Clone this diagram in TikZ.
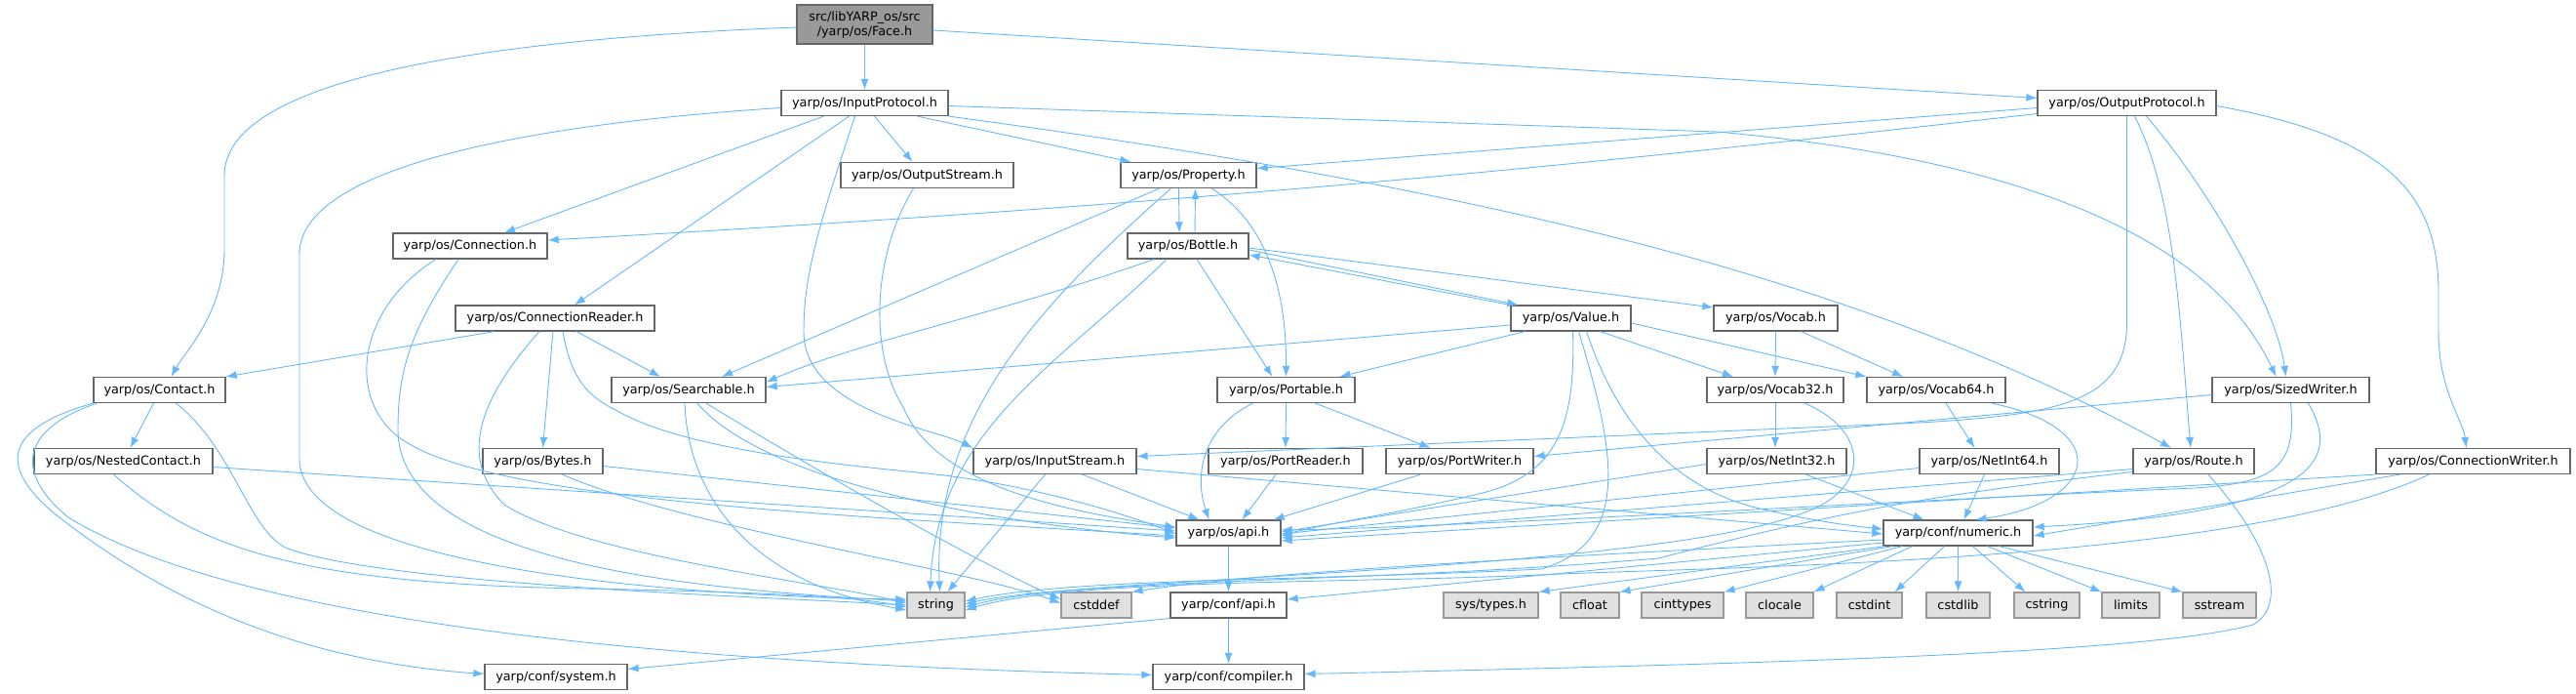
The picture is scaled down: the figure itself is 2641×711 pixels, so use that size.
\documentclass[tikz,border=0pt]{standalone}
\usepackage{fontspec}
\newfontfamily\dejavu{DejaVu Sans}
\usetikzlibrary{arrows.meta}
\definecolor{edgecol}{HTML}{63B8FF}
\definecolor{hdrline}{HTML}{666666}
\definecolor{sysline}{HTML}{999999}
\definecolor{sysfill}{HTML}{E0E0E0}
\definecolor{facefill}{HTML}{999999}
\begin{document}
\begin{tikzpicture}[x=1pt,y=-1pt,
  hdr/.style={draw=hdrline, fill=white, line width=1.2pt, minimum height=26pt, inner sep=0pt, font=\dejavu\fontsize{12.8}{15}\selectfont},
  syshdr/.style={hdr, draw=sysline, fill=sysfill},
  dep/.style={draw=edgecol, line width=0.9pt, -{Latex[length=11pt,width=8pt]}}]
\useasboundingbox (0,0) rectangle (2641,711);

\def \ya{25}
\def \yb{105.5}
\def \yc{179.5}
\def \yd{252}
\def \ye{326}
\def \yf{399.5}
\def \yg{472.5}
\def \yh{546}
\def \yi{620}
\def \yj{693.5}

\node [hdr, fill=facefill, minimum width=139pt, minimum height=40pt, align=center] (face) at (886.5,\ya) {src/libYARP\_os/src\\/yarp/os/Face.h};
\node [hdr, minimum width=171pt] (inprot) at (886.5,\yb) {yarp/os/InputProtocol.h};
\node [hdr, minimum width=183pt] (outprot) at (2180.5,\yb) {yarp/os/OutputProtocol.h};
\node [hdr, minimum width=177pt] (ostream) at (950.5,\yc) {yarp/os/OutputStream.h};
\node [hdr, minimum width=139pt] (prop) at (1218.5,\yc) {yarp/os/Property.h};
\node [hdr, minimum width=158pt] (conn) at (482,\yd) {yarp/os/Connection.h};
\node [hdr, minimum width=124pt] (bottle) at (1218,\yd) {yarp/os/Bottle.h};
\node [hdr, minimum width=204pt] (connrd) at (569,\ye) {yarp/os/ConnectionReader.h};
\node [hdr, minimum width=123pt] (value) at (1610.5,\ye) {yarp/os/Value.h};
\node [hdr, minimum width=127pt] (vocab) at (1820.5,\ye) {yarp/os/Vocab.h};
\node [hdr, minimum width=135pt] (contact) at (163.5,\yf) {yarp/os/Contact.h};
\node [hdr, minimum width=158pt] (search) at (706,\yf) {yarp/os/Searchable.h};
\node [hdr, minimum width=141pt] (portable) at (1318.5,\yf) {yarp/os/Portable.h};
\node [hdr, minimum width=140pt] (voc32) at (1820,\yf) {yarp/os/Vocab32.h};
\node [hdr, minimum width=142pt] (voc64) at (1985,\yf) {yarp/os/Vocab64.h};
\node [hdr, minimum width=161pt] (sizedw) at (2348.5,\yf) {yarp/os/SizedWriter.h};
\node [hdr, minimum width=183pt] (nested) at (126.5,\yg) {yarp/os/NestedContact.h};
\node [hdr, minimum width=123pt] (bytes) at (556.5,\yg) {yarp/os/Bytes.h};
\node [hdr, minimum width=167pt] (istream) at (1081.5,\yg) {yarp/os/InputStream.h};
\node [hdr, minimum width=158pt] (preader) at (1318,\yg) {yarp/os/PortReader.h};
\node [hdr, minimum width=151pt] (pwriter) at (1496.5,\yg) {yarp/os/PortWriter.h};
\node [hdr, minimum width=143pt] (net32) at (1821.5,\yg) {yarp/os/NetInt32.h};
\node [hdr, minimum width=143pt] (net64) at (2039.5,\yg) {yarp/os/NetInt64.h};
\node [hdr, minimum width=124pt] (route) at (2249,\yg) {yarp/os/Route.h};
\node [hdr, minimum width=199pt] (connwr) at (2535.5,\yg) {yarp/os/ConnectionWriter.h};
\node [hdr, minimum width=107pt] (osapi) at (1259.5,\yh) {yarp/os/api.h};
\node [hdr, minimum width=153pt] (numeric) at (2007.5,\yh) {yarp/conf/numeric.h};
\node [hdr, minimum width=119pt] (confapi) at (1259.5,\yi) {yarp/conf/api.h};
\node [syshdr, minimum width=97pt] (systypes) at (1528.5,\yi) {sys/types.h};
\foreach \n/\x/\w in {string/959.5/59, cstddef/1124/72, cfloat/1630/60, cinttypes/1725/84, clocale/1824.5/69, cstdint/1916.5/67, cstdlib/2007.5/65, cstring/2098.5/67, limits/2184.5/59, sstream/2275.5/75}
  \node [syshdr, minimum width=\w pt] (\n) at (\x,\yi) {\n};
\node [hdr, minimum width=146pt] (system) at (570,\yj) {yarp/conf/system.h};
\node [hdr, minimum width=155pt] (compiler) at (1259.5,\yj) {yarp/conf/compiler.h};

% Face.h
\draw [dep] (face) -- (inprot);
\draw [dep] ([yshift=-6pt]face.east) -- ([yshift=5pt]outprot.west);
\draw [dep] ([yshift=-3pt]face.west) .. controls (500,40) and (230,80) .. (230,180) -- (230,255) .. controls (230,320) and (190,360) .. ([xshift=12pt]contact.north);

% InputProtocol.h
\draw [dep] ([yshift=-5pt]inprot.west) .. controls (500,130) and (307,180) .. (307,260) -- (307,470) .. controls (307,590) and (750,612) .. ([yshift=6pt]string.west);
\draw [dep] ([xshift=-42pt]inprot.south) -- ([xshift=35pt]conn.north);
\draw [dep] ([xshift=-16pt]inprot.south) -- ([xshift=20pt]connrd.north);
\draw [dep] ([xshift=-10pt]inprot.south) .. controls (840,230) and (824,280) .. (824,340) .. controls (824,420) and (960,440) .. (istream.north west);
\draw [dep] ([xshift=10pt]inprot.south) -- ([xshift=-15pt]ostream.north);
\draw [dep] ([xshift=54pt]inprot.south) -- ([xshift=11pt]prop.north west);
\draw [dep] (inprot.south east) .. controls (1500,190) and (1900,280) .. ([xshift=-23pt]route.north);
\draw [dep] ([yshift=-3pt]inprot.east) -- (1760,135) .. controls (2040,160) and (2260,230) .. ([xshift=-15pt]sizedw.north);

% OutputProtocol.h
\draw [dep] ([yshift=-5pt]outprot.west) -- ([yshift=7pt]prop.east);
\draw [dep] ([yshift=-11pt]outprot.west) .. controls (1700,160) and (1300,205) .. ([yshift=6pt]conn.east);
\draw [dep] (outprot.south) -- (2180.5,330) .. controls (2180.5,420) and (2100,428) .. (1900,436) -- ([yshift=5pt]istream.east);
\draw [dep] ([xshift=8pt]outprot.south) .. controls (2230,200) and (2235,330) .. ([xshift=-3pt]route.north);
\draw [dep] ([xshift=20pt]outprot.south) .. controls (2270,200) and (2335,320) .. ([xshift=-5pt]sizedw.north);
\draw [dep] ([yshift=-3pt]outprot.east) .. controls (2450,140) and (2500,200) .. (2500,300) -- (2500,340) .. controls (2500,400) and (2525,430) .. ([xshift=-7pt]connwr.north);

% Connection.h, ConnectionReader.h
\draw [dep] ([xshift=-35pt]conn.south) .. controls (360,320) and (355,420) .. (420,455) .. controls (520,515) and (900,530) .. ([yshift=-3pt]osapi.west);
\draw [dep] ([xshift=-12pt]conn.south) .. controls (420,340) and (408,380) .. (408,440) .. controls (408,585) and (750,605) .. ([yshift=4pt]string.west);
\draw [dep] ([xshift=-62pt]connrd.south) -- (contact.north east);
\draw [dep] ([xshift=-16pt]connrd.south) .. controls (490,410) and (470,470) .. (517,517) .. controls (600,570) and (850,598) .. ([yshift=2pt]string.west);
\draw [dep] ([xshift=-2pt]connrd.south) -- (bytes.north);
\draw [dep] ([xshift=8pt]connrd.south) .. controls (585,385) and (600,405) .. (631,420) .. controls (700,460) and (850,475) .. (950,485) .. controls (1050,495) and (1150,525) .. ([yshift=-1pt]osapi.west);
\draw [dep] ([xshift=22pt]connrd.south) -- ([xshift=-29pt]search.north);

% Contact.h, NestedContact.h, Bytes.h
\draw [dep] ([xshift=-6pt]contact.south) -- ([xshift=7pt]nested.north);
\draw [dep] ([xshift=17pt]contact.south) .. controls (240,460) and (255,545) .. (295,562) .. controls (400,600) and (800,612) .. (string.west);
\draw [dep] (contact.south west) .. controls (0,440) and (0,480) .. (57,527) .. controls (200,640) and (350,680) .. ([yshift=3pt]system.west);
\draw [dep] ([xshift=4pt]contact.south west) .. controls (20,440) and (15,485) .. (70,530) .. controls (250,640) and (700,680) .. ([yshift=2pt]compiler.west);
\draw [dep] ([yshift=-6pt]nested.east) -- ([yshift=2pt]osapi.west);
\draw [dep] ([xshift=-10pt]nested.south) .. controls (200,560) and (300,598) .. (600,603) .. controls (800,607) and (880,612) .. ([yshift=-2pt]string.west);
\draw [dep] ([yshift=-5pt]bytes.east) -- ([yshift=5pt]osapi.west);
\draw [dep] ([xshift=20pt]bytes.south) .. controls (700,540) and (1000,585) .. ([yshift=2pt]cstddef.west);

% Searchable.h
\draw [dep] ([xshift=-4pt]search.south) .. controls (705,500) and (760,595) .. ([yshift=-5pt]string.west);
\draw [dep] ([xshift=9pt]search.south) .. controls (780,490) and (1000,535) .. ([yshift=-5pt]osapi.west);
\draw [dep] ([xshift=18pt]search.south) .. controls (850,490) and (1000,575) .. ([yshift=6pt]cstddef.west);

% Property.h, Bottle.h
\draw [dep] ([xshift=-30pt]prop.south) -- ([xshift=34pt]search.north);
\draw [dep] ([xshift=-18pt]prop.south) .. controls (1080,300) and (955,420) .. ([xshift=4pt]string.north);
\draw [dep] ([xshift=-10pt]prop.south) -- ([xshift=-9pt]bottle.north);
\draw [dep] ([xshift=7pt]bottle.north) -- ([xshift=7pt]prop.south);
\draw [dep] ([xshift=24pt]prop.south) .. controls (1300,230) and (1319,300) .. (portable.north);
\draw [dep] ([xshift=-35pt]bottle.south) .. controls (1030,320) and (880,350) .. ([yshift=8pt]search.east);
\draw [dep] ([xshift=-22pt]bottle.south) .. controls (1090,370) and (960,440) .. ([xshift=-6pt]string.north);
\draw [dep] ([xshift=9pt]bottle.south) -- ([xshift=-14pt]portable.north);
\draw [dep] ([yshift=-4pt]bottle.east) -- ([xshift=8pt]value.north west);
\draw [dep] (value.north west) -- ([yshift=-9pt]bottle.east);
\draw [dep] ([yshift=-2pt]bottle.east) -- ([yshift=11pt]vocab.west);

% Value.h, Vocab.h
\draw [dep] ([yshift=-7pt]value.west) -- ([yshift=3pt]search.east);
\draw [dep] ([xshift=-47pt]value.south) -- ([xshift=55pt]portable.north);
\draw [dep] ([xshift=2pt]value.south) .. controls (1615,430) and (1600,485) .. (1520,505) .. controls (1430,527) and (1350,538) .. ([yshift=-3pt]osapi.east);
\draw [dep] ([xshift=8pt]value.south) .. controls (1655,460) and (1675,555) .. (1580,583) .. controls (1350,595) and (1100,592) .. ([yshift=4pt]string.east);
\draw [dep] ([xshift=16pt]value.south) .. controls (1660,440) and (1720,500) .. (1800,520) .. controls (1850,532) and (1890,538) .. ([yshift=4pt]numeric.west);
\draw [dep] ([xshift=30pt]value.south) -- ([xshift=-43pt]voc32.north);
\draw [dep] ([yshift=-5pt]value.east) -- (voc64.north west);
\draw [dep] (vocab.south) -- (voc32.north);
\draw [dep] ([xshift=26pt]vocab.south) -- ([xshift=-34pt]voc64.north);

% Vocab32.h, Vocab64.h, NetInt32.h, NetInt64.h
\draw [dep] (voc32.south) -- ([xshift=-1.5pt]net32.north);
\draw [dep] ([xshift=30pt]voc32.south) .. controls (1915,440) and (1920,500) .. (1850,525) .. controls (1700,585) and (1100,592) .. ([yshift=1pt]string.east);
\draw [dep] ([xshift=10pt]voc64.south) -- ([xshift=-15pt]net64.north);
\draw [dep] ([xshift=57pt]voc64.south) .. controls (2170,440) and (2150,515) .. ([xshift=18pt]numeric.north);
\draw [dep] ([yshift=-3pt]net32.west) -- ([yshift=1pt]osapi.east);
\draw [dep] ([xshift=30pt]net32.south) -- ([xshift=-35pt]numeric.north);
\draw [dep] ([yshift=-7pt]net64.west) -- ([yshift=-1pt]osapi.east);
\draw [dep] ([xshift=-5pt]net64.south) -- ([xshift=6pt]numeric.north);

% Route.h, SizedWriter.h, ConnectionWriter.h
\draw [dep] ([yshift=-8pt]route.west) -- ([yshift=-5pt]osapi.east);
\draw [dep] ([yshift=-11pt]route.west) .. controls (2000,505) and (1900,520) .. (1700,572) .. controls (1400,598) and (1100,592) .. ([yshift=-2pt]string.east);
\draw [dep] ([xshift=15pt]route.south) .. controls (2330,560) and (2345,620) .. (2310,640) .. controls (2200,670) and (1800,680) .. ([yshift=3pt]compiler.east);
\draw [dep] ([yshift=-5pt]sizedw.west) -- ([yshift=5pt]pwriter.east);
\draw [dep] (sizedw.south) .. controls (2355,480) and (2330,495) .. (2250,500) .. controls (1900,515) and (1500,540) .. ([yshift=3pt]osapi.east);
\draw [dep] ([xshift=18pt]sizedw.south) .. controls (2400,470) and (2380,525) .. ([yshift=6pt]numeric.east);
\draw [dep] (connwr.south west) -- ([yshift=-8pt]osapi.east);
\draw [dep] ([xshift=-75pt]connwr.south) -- ([yshift=-3pt]numeric.east);
\draw [dep] ([xshift=-45pt]connwr.south) .. controls (2300,575) and (1800,580) .. (1600,588) .. controls (1400,598) and (1100,592) .. ([yshift=-5pt]string.east);

% Portable.h, PortReader.h, PortWriter.h, InputStream.h, OutputStream.h
\draw [dep] (portable.south) -- (preader.north);
\draw [dep] ([xshift=30pt]portable.south) -- ([xshift=-30pt]pwriter.north);
\draw [dep] ([xshift=-34pt]portable.south) .. controls (1230,440) and (1225,490) .. ([xshift=-20pt]osapi.north);
\draw [dep] ([xshift=-10pt]preader.south) -- ([xshift=14pt]osapi.north);
\draw [dep] ([xshift=-40pt]pwriter.south) -- ([xshift=-8pt]osapi.north east);
\draw [dep] ([xshift=28pt]istream.south) -- ([xshift=-30pt]osapi.north);
\draw [dep] ([xshift=-10pt]istream.south) -- ([xshift=12pt]string.north);
\draw [dep] ([yshift=-8pt]istream.east) -- ([yshift=-1pt]numeric.west);
\draw [dep] ([xshift=-14pt]ostream.south) .. controls (895,260) and (890,360) .. (926,417) .. controls (960,500) and (1100,525) .. ([yshift=6pt]osapi.west);

% api.h, numeric.h
\draw [dep] (osapi) -- (confapi);
\draw [dep] (confapi.south west) -- ([yshift=8pt]system.east);
\draw [dep] (confapi) -- (compiler);
\draw [dep] ([yshift=-7pt]numeric.west) .. controls (1600,570) and (1300,585) .. (cstddef.north east);
\draw [dep] ([yshift=-10pt]numeric.west) -- ([yshift=6pt]confapi.east);
\foreach \t/\s in {systypes/2, cfloat/10, cinttypes/20, clocale/30}
  \draw [dep] ([xshift=\s pt]numeric.south west) -- (\t.north east);
\draw [dep] ([xshift=-14pt]numeric.south) -- ([xshift=-8pt]cstdint.north east);
\draw [dep] (numeric.south) -- (cstdlib.north);
\draw [dep] ([xshift=15pt]numeric.south) -- ([xshift=12pt]cstring.north west);
\draw [dep] ([xshift=30pt]numeric.south) -- (limits.north west);
\draw [dep] ([xshift=42pt]numeric.south) -- (sstream.north west);
\end{tikzpicture}
\end{document}
